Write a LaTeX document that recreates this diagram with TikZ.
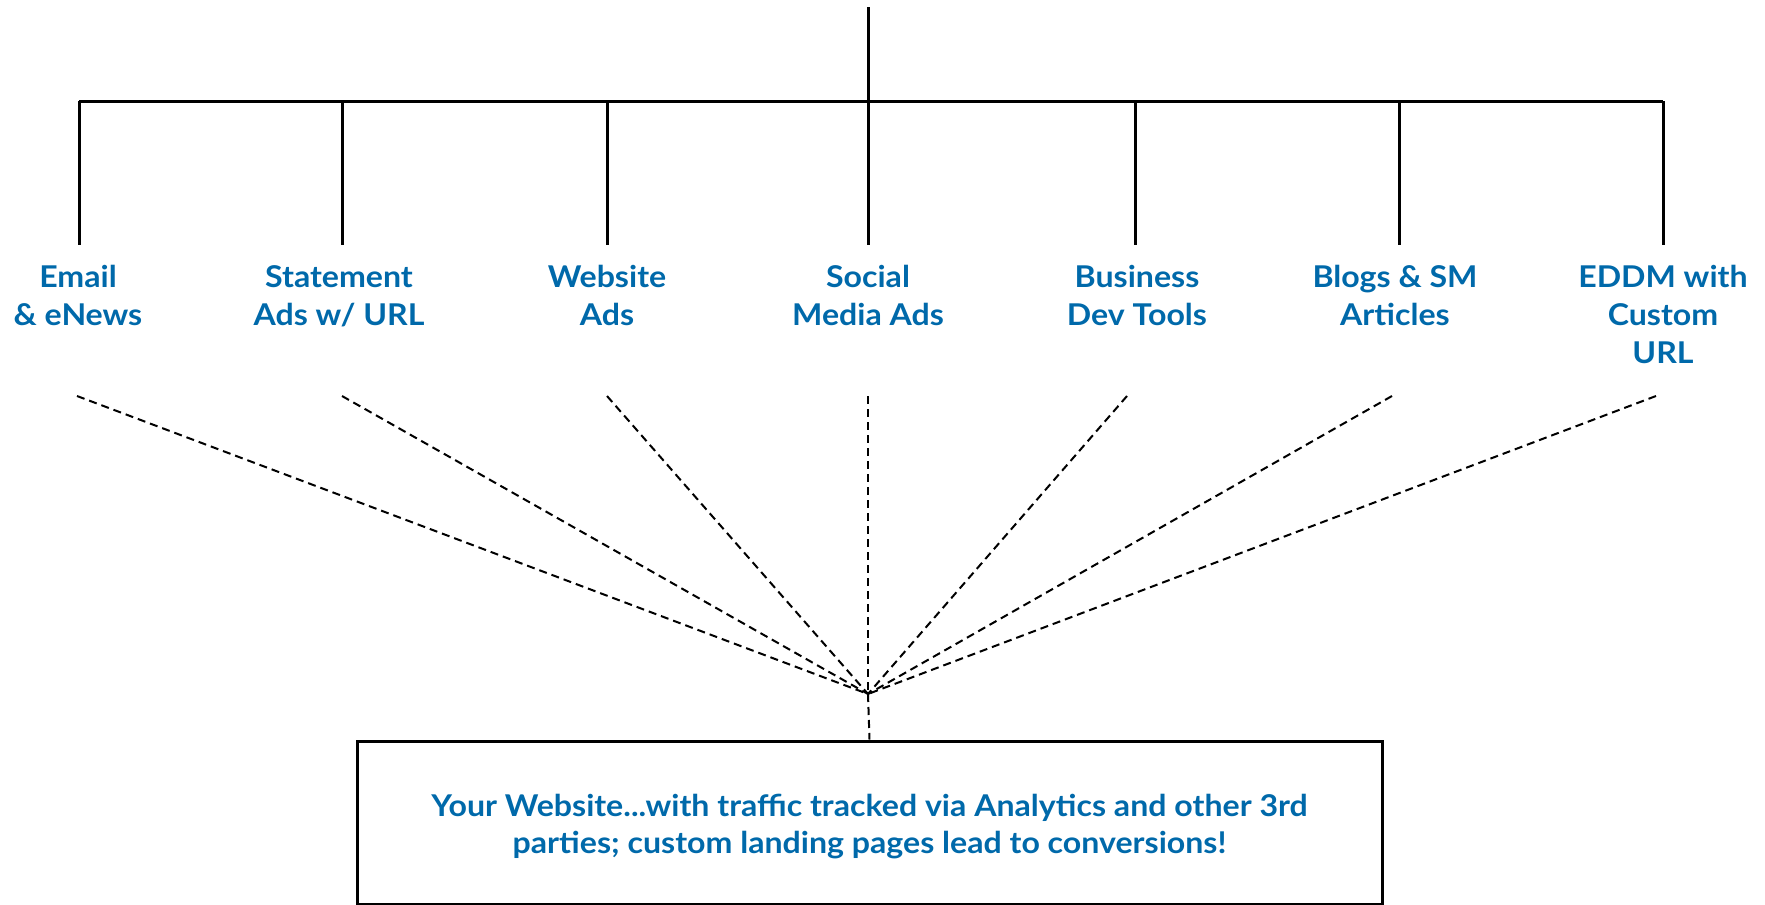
\documentclass[tikz,border=0pt]{standalone}
\usepackage{fontspec}
\setmainfont{Lato}[FakeStretch=1.07]
\definecolor{lblue}{RGB}{0,105,170}
\begin{document}
\begin{tikzpicture}[x=1pt,y=-1pt,
  solid line/.style={line width=3pt,black},
  dash line/.style={line width=2pt,black,dash pattern=on 8pt off 5pt},
  lab/.style={font=\fontsize{30}{38}\selectfont\bfseries,text=lblue,align=center,inner sep=0pt,anchor=base},
  sitebox/.style={draw,line width=3pt,minimum width=1025pt,minimum height=163pt,inner sep=0pt},
  sitetext/.style={font=\fontsize{30}{37}\selectfont\bfseries,text=lblue,align=center,inner sep=0pt}]
\useasboundingbox (0,0) rectangle (1765,905);
\coordinate (top) at (868,7);
\coordinate (hub) at (868,101);
\foreach \i/\x/\dx in {1/79/77,2/342/342,3/607/607,4/868/868,5/1135/1127,6/1399/1392,7/1663/1656}{
  \coordinate (b\i) at (\x,101);
  \coordinate (t\i) at (\x,245);
  \coordinate (d\i) at (\dx,396);
}
\coordinate (conv) at (868,694);
\node[lab] (l1) at (78,325) {Email\\\& eNews};
\node[lab] (l2) at (339,325) {Statement\\Ads w/ URL};
\node[lab] (l3) at (607,325) {Website\\Ads};
\node[lab] (l4) at (868,325) {Social\\Media Ads};
\node[lab] (l5) at (1137,325) {Business\\Dev Tools};
\node[lab] (l6) at (1395,325) {Blogs \& SM\\Articles};
\node[lab] (l7) at (1663,363) {EDDM with\\Custom\\URL};
\node[sitebox] (site) at (869.5,822.5) {};
\node[sitetext] (sitelabel) at (869.5,827) {Your Website...with traffic tracked via Analytics and other 3rd\\parties; custom landing pages lead to conversions!};
\draw[solid line] (top) -- (hub);
\draw[solid line] (b1) -- (b7);
\foreach \i in {1,...,7}{
  \draw[solid line] (b\i) -- (t\i);
  \draw[dash line] (d\i) -- (conv);
}
\draw[dash line] (conv) -- (site.north);
\end{tikzpicture}
\end{document}
